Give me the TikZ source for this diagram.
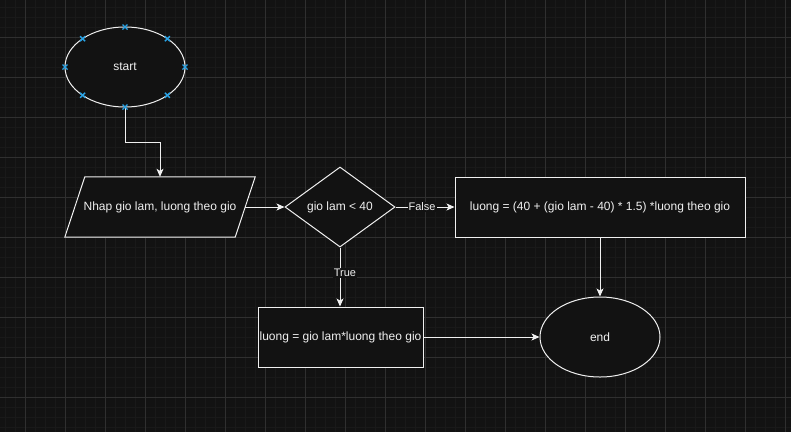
\documentclass[tikz,border=0pt]{standalone}
\usepackage{fontspec}
\setmainfont{Liberation Sans}
\usetikzlibrary{shapes.geometric,arrows.meta,calc}
\definecolor{bg}{HTML}{121212}
\definecolor{gridminor}{HTML}{191919}
\definecolor{gridmajor}{HTML}{2F2F2F}
\definecolor{fg}{HTML}{F0F0F0}
\definecolor{handle}{HTML}{29A3E6}
\tikzset{
  base/.style={draw=fg, fill=bg, text=fg, line width=1pt, font=\fontsize{12}{14}\selectfont, inner sep=0pt},
  term/.style={base, ellipse, minimum width=120pt, minimum height=80pt},
  procbox/.style={base, rectangle},
  decide/.style={base, diamond, shape aspect=1.375, minimum width=110pt, minimum height=80pt},
  flow/.style={draw=fg, line width=1pt, -{Stealth[length=8pt,width=7pt,inset=2pt]}},
  lbl/.style={fill=bg, text=fg, inner sep=1pt, font=\fontsize{11}{13}\selectfont},
  hmark/.style={draw=handle, line width=1.4pt},
}
\begin{document}
\begin{tikzpicture}[x=1pt,y=-1pt]
\fill[bg] (0,0) rectangle (791,432);
\useasboundingbox (0,0) rectangle (791,432);
% grid
\foreach \x in {5,15,...,785} \draw[gridminor, line width=0.5pt] (\x,0) -- (\x,432);
\foreach \y in {7,17,...,430} \draw[gridminor, line width=0.5pt] (0,\y) -- (791,\y);
\foreach \x in {25,65,...,785} \draw[gridmajor, line width=0.7pt] (\x,0) -- (\x,432);
\foreach \y in {37,77,...,430} \draw[gridmajor, line width=0.7pt] (0,\y) -- (791,\y);

% nodes
\node[term] (start) at (125,67) {start};
\node[text=fg, font=\fontsize{12}{14}\selectfont, minimum width=170pt, minimum height=60pt, inner sep=0pt] (inp) at (160,207) {};
\filldraw[draw=fg, fill=bg, line width=1pt]
  ($(inp.north west)+(10,0)$) -- ($(inp.north east)+(10,0)$) --
  ($(inp.south east)+(-10,0)$) -- ($(inp.south west)+(-10,0)$) -- cycle;
\node[text=fg, font=\fontsize{12}{14}\selectfont] at (inp) {Nhap gio lam, luong theo gio};
\node[decide] (dec) at (340,207) {gio lam < 40};
\node[procbox, minimum width=290pt, minimum height=60pt] (over) at (600,207) {luong = (40 + (gio lam - 40) * 1.5) *luong theo gio};
\node[procbox, minimum width=165pt, minimum height=60pt] (norm) at (340.5,337) {luong = gio lam*luong theo gio};
\node[term] (end) at (600,337) {end};

% connectors
\draw[flow] (start.south) -- ++(0,35) -| (inp.north);
\draw[flow] (inp.east) -- (dec.west);
\draw[flow] (dec.east) -- node[lbl, pos=0.45] {False} (over.west);
\draw[flow] (dec.south) -- node[lbl, pos=0.43, xshift=5pt] {True} (dec.south |- norm.north);
\draw[flow] (over.south) -- (end.north);
\draw[flow] (norm.east) -- (end.west);

% selection handles on start
\foreach \a in {0,45,...,315}{
  \path (start.center) ++(\a:60 and 40) coordinate (h);
  \draw[hmark] ($(h)+(-2.5,-2.5)$) -- ($(h)+(2.5,2.5)$) ($(h)+(-2.5,2.5)$) -- ($(h)+(2.5,-2.5)$);
}
\end{tikzpicture}
\end{document}
